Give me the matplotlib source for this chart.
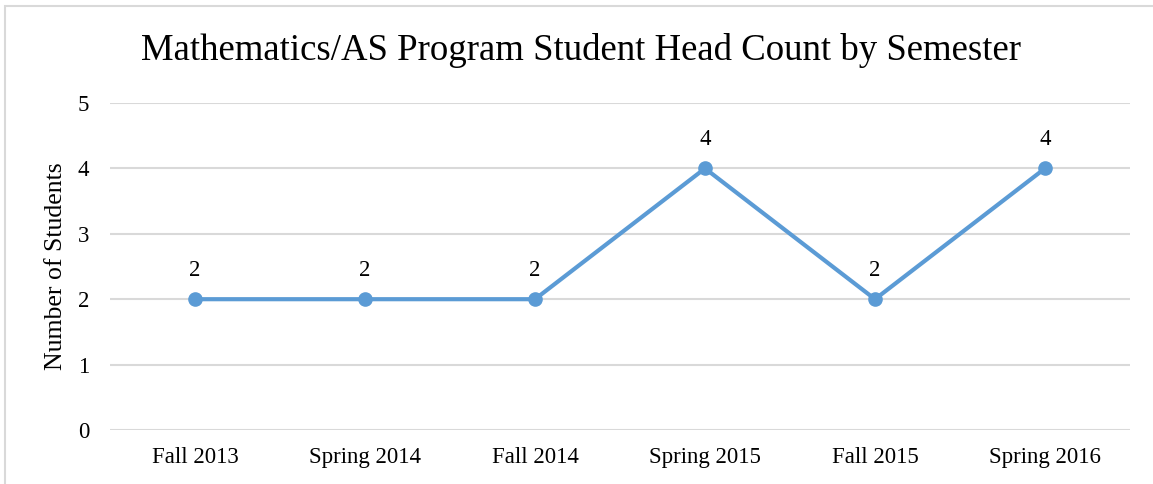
import matplotlib.pyplot as plt
from matplotlib.patches import Rectangle

semesters = ['Fall 2013', 'Spring 2014', 'Fall 2014', 'Spring 2015', 'Fall 2015', 'Spring 2016']
students = [2, 2, 2, 4, 2, 4]

plt.rcParams['font.family'] = ['Liberation Serif', 'DejaVu Serif']

fig = plt.figure(figsize=(11.53, 4.84), dpi=100)
ax = fig.add_axes([110 / 1153, 1 - 430 / 484, 1020 / 1153, 327 / 484])

# outer chart border (runs off the right/bottom edge)
fig.patches.append(Rectangle((5 / 1153, -0.1), 1.2, 1 - 6 / 484 + 0.1,
                             transform=fig.transFigure, fill=False,
                             edgecolor='#D9D9D9', linewidth=1.5))

x = range(len(semesters))
ax.plot(x, students, color='#5B9BD5', linewidth=3, marker='o', markersize=9.5, zorder=3)
for xi, v in zip(x, students):
    ax.annotate(str(v), (xi, v), xytext=(0, 13), textcoords='offset points',
                ha='center', va='bottom', fontsize=16.5, color='black')

ax.set_xlim(-0.5, len(semesters) - 0.5)
ax.set_ylim(0, 5)
ax.set_yticks(range(6))
ax.set_xticks(list(x))
ax.set_xticklabels(semesters)
ax.grid(axis='y', color='#D9D9D9', linewidth=1.5)
ax.set_axisbelow(True)
for s in ax.spines.values():
    s.set_visible(False)
ax.tick_params(length=0, labelsize=16.5, colors='black', pad=12)
ax.tick_params(axis='y', pad=15)
ax.set_ylabel('Number of Students', fontsize=18.5, color='black', labelpad=8)

fig.text(581 / 1153, 1 - 50 / 484, 'Mathematics/AS Program Student Head Count by Semester',
         ha='center', va='center', fontsize=26.5, color='black')

fig.savefig('out.png', dpi=100)
